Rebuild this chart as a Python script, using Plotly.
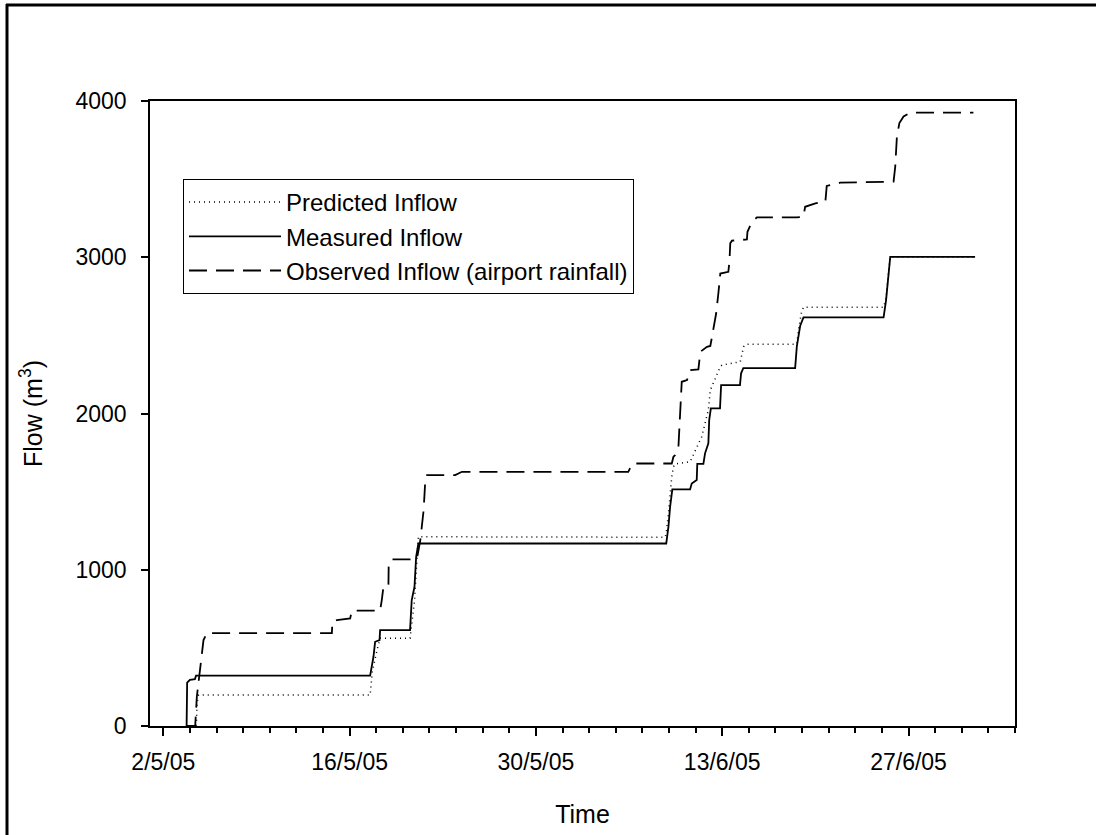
import plotly.graph_objects as go

# ---- data ----
measured_t = ["2005-05-03 18:00", "2005-05-03 19:00", "2005-05-04 00:00", "2005-05-04 09:00", "2005-05-04 11:00",
              "2005-05-17 13:00", "2005-05-17 19:00", "2005-05-17 22:00", "2005-05-18 06:00", "2005-05-18 07:00",
              "2005-05-20 13:00", "2005-05-20 16:00", "2005-05-20 21:00", "2005-05-21 00:00", "2005-05-21 04:00",
              "2005-06-08 19:00", "2005-06-08 23:00", "2005-06-09 02:00", "2005-06-09 06:00", "2005-06-10 14:00",
              "2005-06-10 17:00", "2005-06-11 02:00", "2005-06-11 03:00", "2005-06-11 14:00", "2005-06-11 17:00",
              "2005-06-11 23:00", "2005-06-12 00:30", "2005-06-12 03:30", "2005-06-12 20:00", "2005-06-12 22:00",
              "2005-06-14 08:00", "2005-06-14 10:00", "2005-06-14 14:00", "2005-06-18 11:30", "2005-06-18 14:30",
              "2005-06-18 17:30", "2005-06-18 20:30", "2005-06-19 02:30", "2005-06-25 03:00", "2005-06-25 07:30",
              "2005-06-25 11:00", "2005-06-25 15:00", "2005-07-02 00:00"]
measured_v = [0, 277, 295, 300, 322,
              322, 443, 539, 550, 614,
              614, 806, 891, 1083, 1168,
              1168, 1276, 1403, 1514, 1514,
              1552, 1574, 1677, 1677, 1745,
              1809, 1958, 2033, 2033, 2182,
              2182, 2257, 2290, 2290, 2428,
              2513, 2560, 2615, 2615, 2726,
              2854, 3002, 3002]

predicted_t = ["2005-05-03 18:00", "2005-05-04 11:30", "2005-05-04 13:00", "2005-05-04 15:30",
               "2005-05-17 13:00", "2005-05-17 17:00", "2005-05-18 01:30", "2005-05-18 07:00",
               "2005-05-20 13:00", "2005-05-20 21:00", "2005-05-21 02:00", "2005-05-21 04:00",
               "2005-06-08 17:00", "2005-06-08 19:00", "2005-06-08 23:00", "2005-06-09 02:00", "2005-06-09 05:00",
               "2005-06-09 08:00", "2005-06-09 11:00", "2005-06-10 14:00", "2005-06-10 20:00", "2005-06-11 02:30",
               "2005-06-11 11:00", "2005-06-11 17:00", "2005-06-11 23:00", "2005-06-12 02:30", "2005-06-12 05:00",
               "2005-06-12 20:30", "2005-06-12 23:30", "2005-06-14 08:30", "2005-06-14 14:30", "2005-06-14 20:30",
               "2005-06-18 14:30", "2005-06-18 17:30", "2005-06-18 22:30", "2005-06-19 02:30", "2005-06-25 03:00",
               "2005-06-25 07:30", "2005-06-25 11:00", "2005-06-25 15:00", "2005-07-02 00:00"]
predicted_v = [0, 0, 150, 198,
               198, 350, 486, 561,
               561, 800, 1100, 1211,
               1208, 1233, 1361, 1489, 1595,
               1659, 1677, 1691, 1734, 1787,
               1851, 1937, 2022, 2150, 2171,
               2299, 2310, 2331, 2427, 2444,
               2444, 2534, 2640, 2680, 2680,
               2740, 2870, 3002, 3002]

observed_t = ["2005-05-03 18:00", "2005-05-04 09:30", "2005-05-04 12:30", "2005-05-04 22:00", "2005-05-05 00:30",
              "2005-05-05 05:00", "2005-05-05 06:30", "2005-05-14 16:00", "2005-05-14 17:00", "2005-05-15 01:00",
              "2005-05-16 01:00", "2005-05-16 04:00", "2005-05-18 07:00", "2005-05-18 10:00", "2005-05-18 13:00",
              "2005-05-18 22:00", "2005-05-18 22:30", "2005-05-19 04:00", "2005-05-20 13:00", "2005-05-21 01:30",
              "2005-05-21 07:30", "2005-05-21 13:30", "2005-05-21 16:30", "2005-05-21 19:30", "2005-05-23 22:30",
              "2005-05-24 10:30", "2005-06-05 22:30", "2005-06-06 06:00", "2005-06-09 05:00", "2005-06-09 08:00",
              "2005-06-09 11:00", "2005-06-09 17:00", "2005-06-09 20:00", "2005-06-09 21:30", "2005-06-09 23:00",
              "2005-06-10 08:30", "2005-06-10 14:00", "2005-06-11 05:00", "2005-06-11 07:00", "2005-06-11 08:30",
              "2005-06-11 20:30", "2005-06-12 02:30", "2005-06-12 05:00", "2005-06-12 08:00", "2005-06-12 13:00",
              "2005-06-12 17:00", "2005-06-12 20:30", "2005-06-13 11:00", "2005-06-13 13:00", "2005-06-13 14:30",
              "2005-06-13 17:30", "2005-06-14 20:30", "2005-06-14 21:30", "2005-06-15 05:30", "2005-06-15 14:30",
              "2005-06-18 14:30", "2005-06-19 02:30", "2005-06-19 05:30", "2005-06-20 00:00", "2005-06-20 18:00",
              "2005-06-20 20:30", "2005-06-21 20:30", "2005-06-25 21:00", "2005-06-26 00:00", "2005-06-26 03:00",
              "2005-06-26 07:30", "2005-06-26 15:00", "2005-06-27 03:00", "2005-07-01 21:00"]
observed_v = [0, 0, 188, 507, 550,
              582, 595, 595, 668, 678,
              689, 738, 738, 806, 891,
              896, 1041, 1066, 1066, 1072,
              1190, 1382, 1574, 1606, 1606,
              1627, 1627, 1680, 1680, 1723,
              1734, 1787, 1958, 2065, 2203,
              2214, 2278, 2282, 2342, 2395,
              2427, 2432, 2480, 2545, 2640,
              2768, 2896, 2907, 2971, 3089,
              3106, 3114, 3163, 3227, 3255,
              3255, 3259, 3323, 3345, 3355,
              3456, 3477, 3484, 3579, 3771,
              3859, 3901, 3926, 3926]

x_tick_vals = ["2005-05-02", "2005-05-16", "2005-05-30", "2005-06-13", "2005-06-27"]
x_tick_text = ["2/5/05", "16/5/05", "30/5/05", "13/6/05", "27/6/05"]
y_tick_vals = [0, 1000, 2000, 3000, 4000]

FONT = "Liberation Sans, Arial, Helvetica, sans-serif"

fig = go.Figure()
fig.add_trace(go.Scatter(x=predicted_t, y=predicted_v, mode="lines", name="Predicted Inflow",
                         line=dict(color="black", width=1.5, dash="1px,4px")))
fig.add_trace(go.Scatter(x=measured_t, y=measured_v, mode="lines", name="Measured Inflow",
                         line=dict(color="black", width=1.8)))
fig.add_trace(go.Scatter(x=observed_t, y=observed_v, mode="lines", name="Observed Inflow (airport rainfall)",
                         line=dict(color="black", width=1.8, dash="18px,9px")))

L, R, T, B = 150, 81, 101, 109
W, H = 1096, 835
pw, ph = W - L - R, H - T - B

def px_x(p):
    return (p - L) / pw

def px_y(p):
    return (H - B - p) / ph

fig.update_layout(
    template="none",
    width=W, height=H, autosize=False,
    margin=dict(l=L, r=R, t=T, b=B, pad=0, autoexpand=False),
    paper_bgcolor="white", plot_bgcolor="white",
    font=dict(family=FONT, color="black", size=23),
    showlegend=True,
    legend=dict(x=px_x(183), y=px_y(179), xanchor="left", yanchor="top",
                bgcolor="white", bordercolor="black", borderwidth=1,
                font=dict(size=24, family=FONT, color="black"),
                itemwidth=92, tracegroupgap=0),
    xaxis=dict(type="date", range=["2005-05-01", "2005-07-05"], automargin=False,
               tickmode="array", tickvals=x_tick_vals, ticktext=x_tick_text,
               ticks="outside", ticklen=8, tickwidth=1.5, tickcolor="black",
               ticklabelstandoff=7,
               minor=dict(ticks="outside", ticklen=5, tickwidth=1.5, tickcolor="black",
                          dtick=2 * 86400000, tick0="2005-05-02", showgrid=False),
               showline=True, linecolor="black", linewidth=1.5, mirror=True,
               showgrid=False, zeroline=False,
               tickfont=dict(size=23, family=FONT),
               title=dict(text="Time", font=dict(size=25, family=FONT), standoff=31)),
    yaxis=dict(range=[0, 4000], tickmode="array", tickvals=y_tick_vals, automargin=False,
               ticks="outside", ticklen=7, tickwidth=1.5, tickcolor="black",
               ticklabelstandoff=10,
               showline=True, linecolor="black", linewidth=1.5, mirror=True,
               showgrid=False, zeroline=False,
               tickfont=dict(size=23, family=FONT),
               title=dict(text="Flow (m<sup>3</sup>)", font=dict(size=25, family=FONT), standoff=26)),
    shapes=[dict(type="line", xref="paper", yref="paper",
                 x0=px_x(7), x1=px_x(7), y0=px_y(4), y1=px_y(835),
                 line=dict(color="black", width=3)),
            dict(type="line", xref="paper", yref="paper",
                 x0=px_x(6), x1=px_x(1096), y0=px_y(5), y1=px_y(5),
                 line=dict(color="black", width=3))],
)

fig.write_html("out.html")
